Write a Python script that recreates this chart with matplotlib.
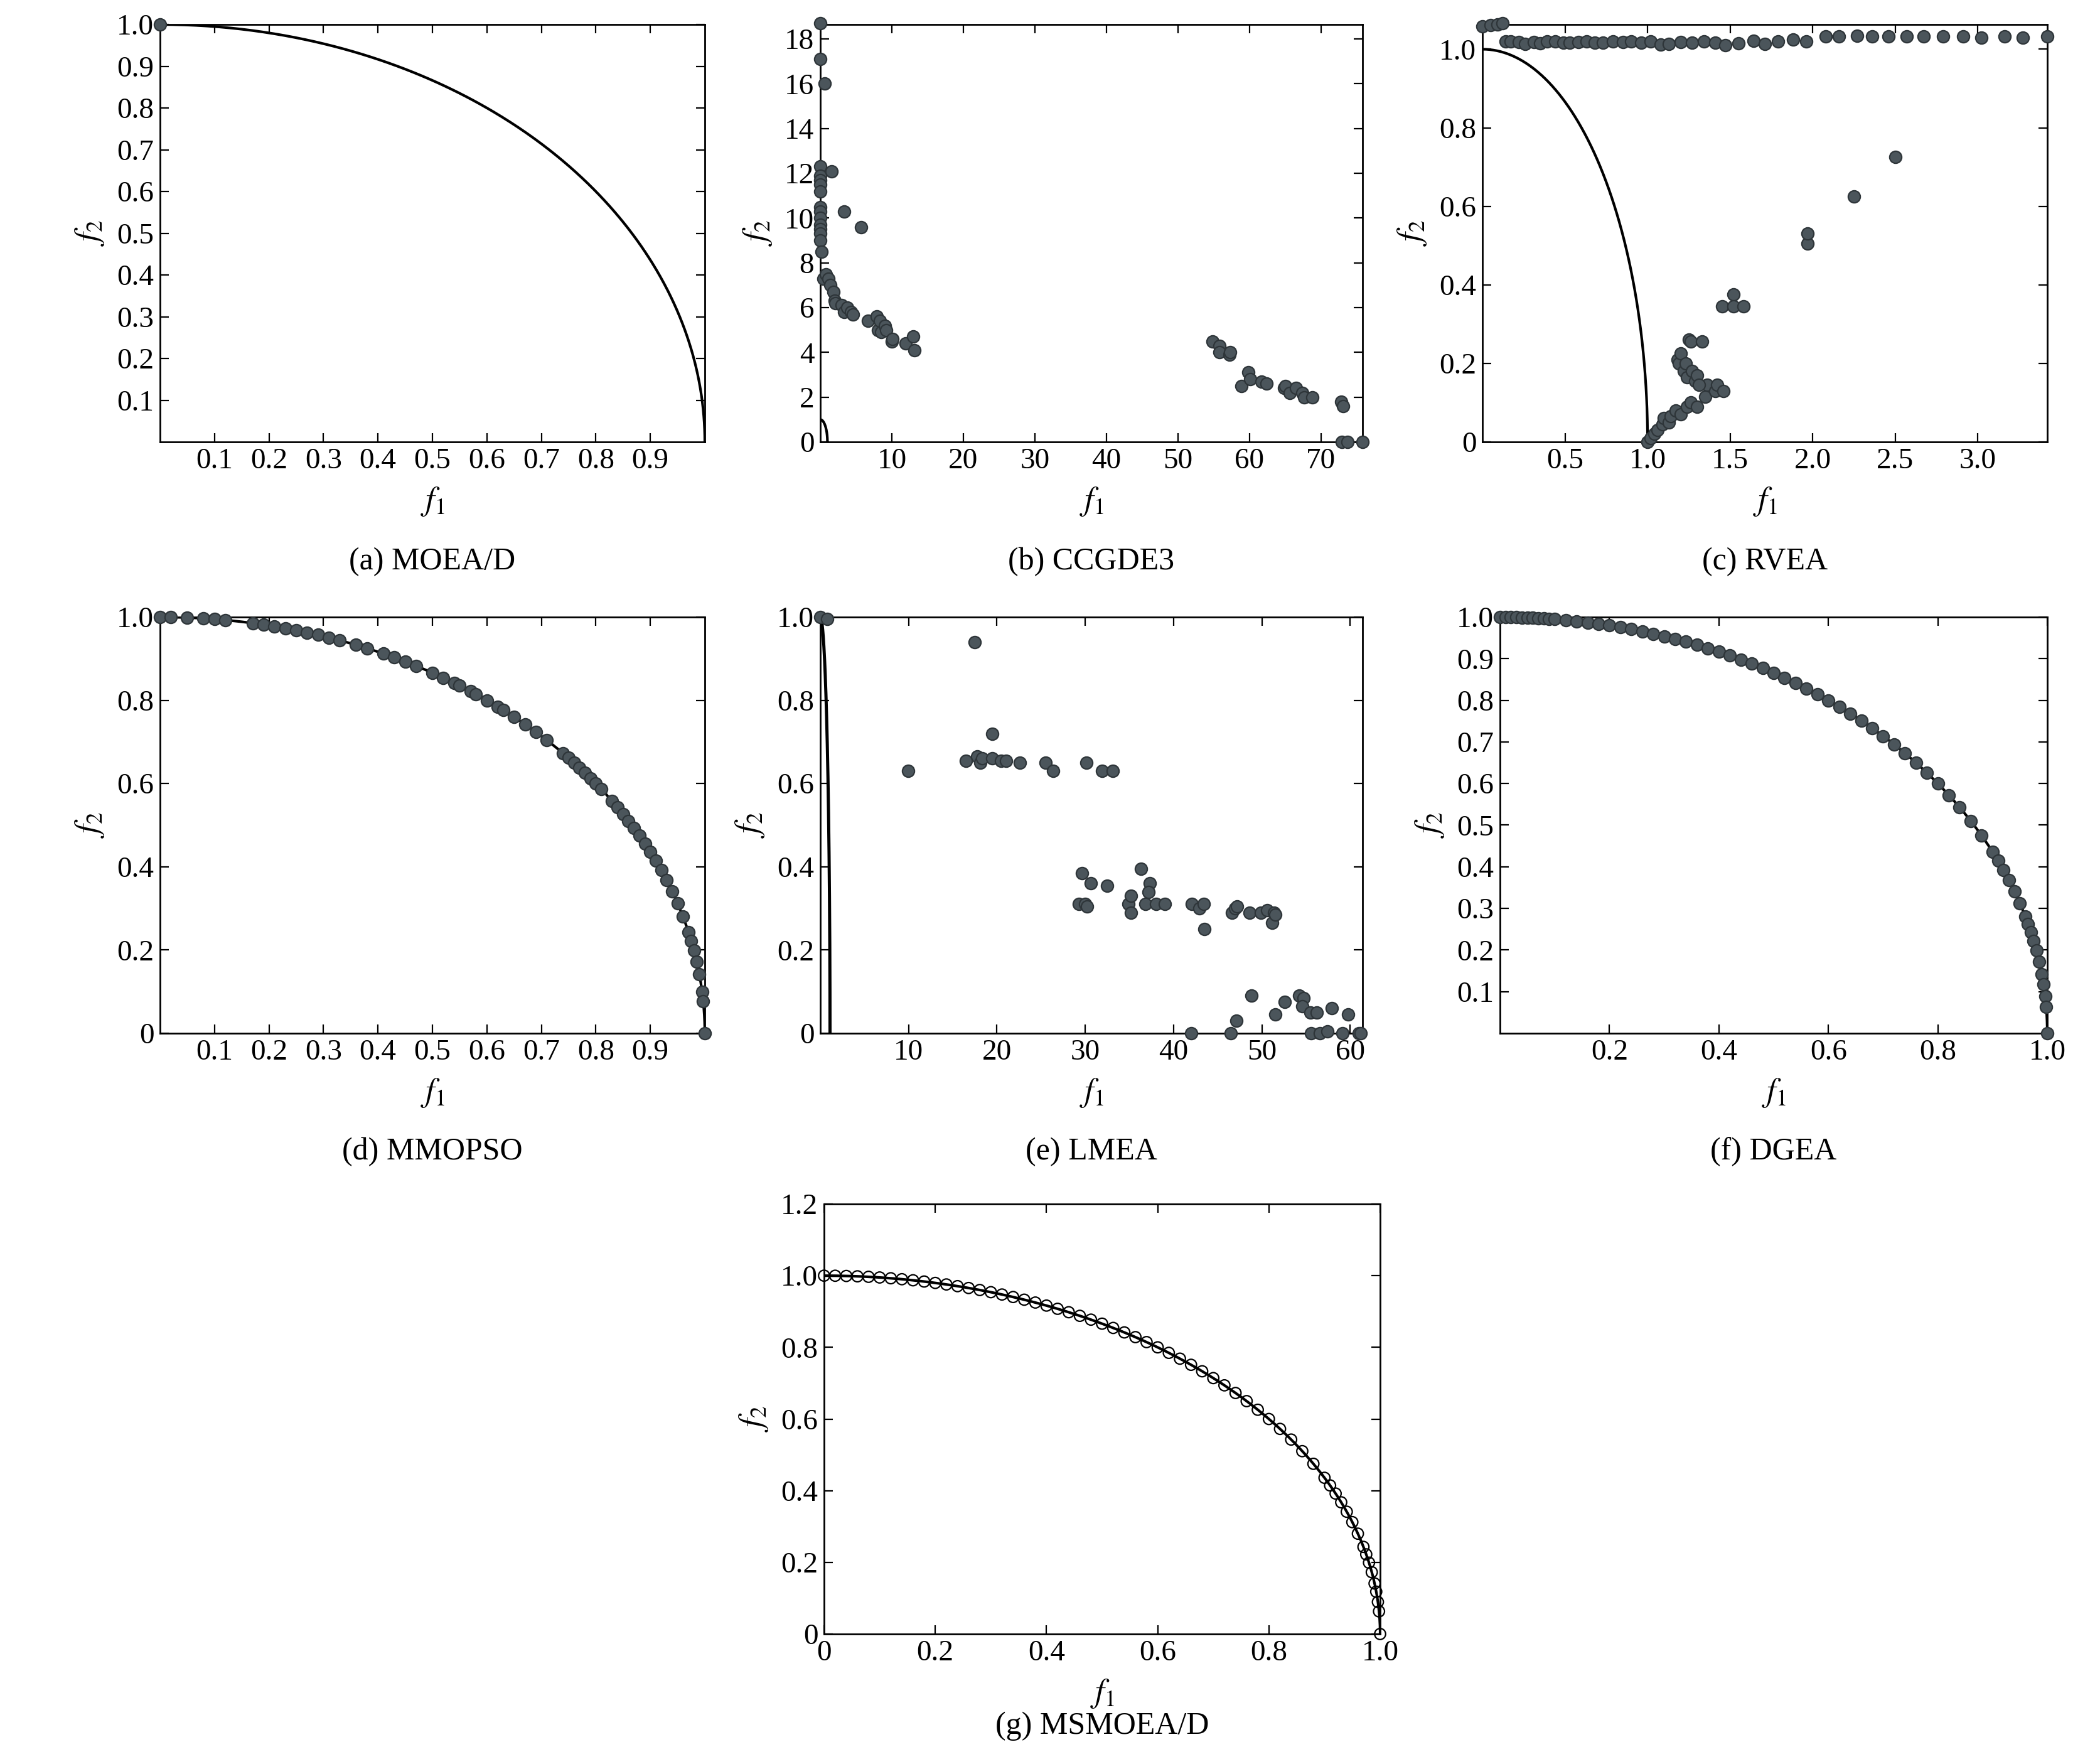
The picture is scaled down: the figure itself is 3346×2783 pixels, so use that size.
import numpy as np
import matplotlib
matplotlib.use("Agg")
from matplotlib import pyplot as plt

plt.rcParams['font.family'] = ['Liberation Serif', 'DejaVu Serif']
plt.rcParams['mathtext.fontset'] = 'stix'

# ---- data ----
b_x = [0, 0, 0.6, 0, 0, 0, 0, 0, 1.6, 0, 0, 0, 0, 0, 0, 0, 0.2, 3.3, 5.7, 0.4, 0.8, 1.1, 1.4, 1.8,
       2.0, 2.1, 3.0, 3.3, 3.8, 4.3, 4.6, 6.7, 7.9, 8.1, 8.3, 8.5, 9.0, 9.2, 10.0, 10.1, 11.9, 13.0,
       13.2, 54.8, 55.8, 55.8, 57.2, 57.3, 58.9, 59.8, 60.1, 61.7, 62.4, 64.8, 65.0, 65.6, 66.5,
       67.4, 67.6, 68.8, 72.8, 73.1, 72.9, 73.7, 75.8]
b_y = [18.7, 17.1, 16.0, 12.3, 11.9, 11.7, 11.5, 11.2, 12.1, 10.5, 10.3, 10.0, 9.7, 9.5, 9.3, 9.0,
       8.5, 10.3, 9.6, 7.3, 7.5, 7.3, 7.0, 6.7, 6.3, 6.2, 6.1, 5.8, 6.0, 5.8, 5.7, 5.4, 5.6, 5.0,
       5.4, 4.9, 5.2, 5.0, 4.5, 4.6, 4.4, 4.7, 4.1, 4.5, 4.3, 4.0, 3.9, 4.0, 2.5, 3.1, 2.8, 2.7,
       2.6, 2.4, 2.5, 2.2, 2.4, 2.2, 2.0, 2.0, 1.8, 1.6, 0, 0, 0]

c_x = [0.0, 0.05, 0.09, 0.12,
       0.14, 0.17, 0.22, 0.26, 0.31, 0.35, 0.39, 0.44, 0.49, 0.53, 0.58, 0.63, 0.68, 0.73, 0.79,
       0.85, 0.9, 0.96, 1.02, 1.08, 1.13, 1.2, 1.27, 1.34, 1.41, 1.47, 1.55, 1.64, 1.71, 1.79,
       1.88, 1.96, 2.08, 2.16, 2.27, 2.36, 2.46, 2.57, 2.67, 2.79, 2.91, 3.02, 3.16, 3.27, 3.42,
       1.0, 1.02, 1.04, 1.06, 1.09, 1.1, 1.13, 1.14, 1.17, 1.2, 1.24, 1.26, 1.3, 1.35, 1.36, 1.41,
       1.42, 1.46, 1.18, 1.19, 1.2, 1.22, 1.23, 1.24, 1.27, 1.29, 1.3, 1.31, 1.25, 1.26, 1.33,
       1.45, 1.52, 1.52, 1.58, 1.97, 1.97, 2.25, 2.5]
c_y = [1.058, 1.061, 1.063, 1.066,
       1.02, 1.02, 1.018, 1.014, 1.018, 1.015, 1.02, 1.02, 1.016, 1.016, 1.018, 1.02, 1.017,
       1.016, 1.02, 1.018, 1.02, 1.016, 1.02, 1.012, 1.013, 1.018, 1.016, 1.02, 1.017, 1.01,
       1.015, 1.022, 1.013, 1.02, 1.024, 1.02, 1.033, 1.033, 1.035, 1.033, 1.033, 1.033, 1.032,
       1.033, 1.033, 1.03, 1.033, 1.03, 1.033,
       0.0, 0.01, 0.02, 0.03, 0.045, 0.06, 0.05, 0.065, 0.08, 0.07, 0.09, 0.1, 0.09, 0.115, 0.145,
       0.13, 0.145, 0.13, 0.21, 0.2, 0.225, 0.18, 0.2, 0.165, 0.18, 0.155, 0.17, 0.145, 0.26,
       0.255, 0.255, 0.345, 0.375, 0.345, 0.345, 0.505, 0.53, 0.625, 0.725]

d_x = [0.0, 0.02, 0.05, 0.08, 0.1, 0.12, 0.17, 0.19, 0.21, 0.23, 0.25, 0.27, 0.29, 0.31, 0.33,
       0.36, 0.38, 0.41, 0.43, 0.45, 0.47, 0.5, 0.52, 0.54, 0.55, 0.57, 0.58, 0.6, 0.62, 0.63,
       0.65, 0.67, 0.69, 0.71, 0.74, 0.75, 0.76, 0.77, 0.78, 0.79, 0.8, 0.81, 0.83, 0.84, 0.85,
       0.86, 0.87, 0.88, 0.89, 0.9, 0.91, 0.92, 0.93, 0.94, 0.95, 0.96, 0.97, 0.975, 0.98, 0.985,
       0.99, 0.995, 0.997, 1.0]

e_x = [0, 0.8, 17.5, 9.95, 16.5, 17.8, 18.1, 18.3, 19.5, 19.5, 20.5, 21, 22.6, 25.5, 26.4, 30.1,
       31.9, 33.1, 29.6, 30.6, 32.5, 29.3, 30.0, 30.2, 34.9, 35.2, 35.2, 36.3, 37.3, 37.2, 36.8,
       38.0, 39.0, 42.1, 42.9, 43.4, 43.5, 46.6, 47.0, 47.2, 48.6, 49.9, 50.6, 51.2, 51.4, 51.5,
       48.8, 47.1, 51.5, 52.6, 54.2, 54.7, 54.6, 55.5, 56.2, 57.9, 59.8, 42.0, 46.5, 55.6, 56.6,
       57.4, 59.1, 61.0, 61.2]
e_y = [1.0, 0.995, 0.94, 0.63, 0.655, 0.665, 0.65, 0.66, 0.72, 0.66, 0.655, 0.655, 0.65, 0.65,
       0.63, 0.65, 0.63, 0.63, 0.385, 0.36, 0.355, 0.31, 0.31, 0.305, 0.31, 0.33, 0.29, 0.395,
       0.36, 0.34, 0.31, 0.31, 0.31, 0.31, 0.3, 0.31, 0.25, 0.29, 0.3, 0.305, 0.29, 0.29, 0.295,
       0.265, 0.29, 0.285, 0.09, 0.03, 0.045, 0.075, 0.09, 0.085, 0.065, 0.05, 0.05, 0.06, 0.045,
       0, 0, 0, 0, 0.005, 0, 0, 0]

f_x = [0.0, 0.01, 0.02, 0.03, 0.04, 0.05, 0.06, 0.07, 0.08, 0.09, 0.1, 0.12, 0.14, 0.16, 0.18,
       0.2, 0.22, 0.24, 0.26, 0.28, 0.3, 0.32, 0.34, 0.36, 0.38, 0.4, 0.42, 0.44, 0.46, 0.48, 0.5,
       0.52, 0.54, 0.56, 0.58, 0.6, 0.62, 0.64, 0.66, 0.68, 0.7, 0.72, 0.74, 0.76, 0.78, 0.8, 0.82,
       0.84, 0.86, 0.88, 0.9, 0.91, 0.92, 0.93, 0.94, 0.95, 0.96, 0.965, 0.97, 0.975, 0.98, 0.985,
       0.99, 0.993, 0.996, 0.998, 1.0]

g_x = [0.0, 0.02, 0.04, 0.06, 0.08, 0.1, 0.12, 0.14, 0.16, 0.18, 0.2, 0.22, 0.24, 0.26, 0.28,
       0.3, 0.32, 0.34, 0.36, 0.38, 0.4, 0.42, 0.44, 0.46, 0.48, 0.5, 0.52, 0.54, 0.56, 0.58, 0.6,
       0.62, 0.64, 0.66, 0.68, 0.7, 0.72, 0.74, 0.76, 0.78, 0.8, 0.82, 0.84, 0.86, 0.88, 0.9, 0.91,
       0.92, 0.93, 0.94, 0.95, 0.96, 0.97, 0.975, 0.98, 0.985, 0.99, 0.993, 0.996, 0.998, 1.0]


def front(x):
    # true Pareto front f1^2 + f2^2 = 1
    x = np.asarray(x, dtype=float)
    return np.sqrt(np.clip(1 - x**2, 0, None))


pf_x = 1 - (1 - np.linspace(0, 1, 400))**3
pf_y = front(pf_x)

dot = dict(s=48, c='#4b555b', edgecolors='#2e3539', linewidths=0.8, zorder=3, clip_on=False)

fig = plt.figure(figsize=(16.73, 13.915), dpi=200)
W, H = 3346, 2783


def mk(l, t, r, b):
    return fig.add_axes([l / W, 1 - b / H, (r - l) / W, (b - t) / H])


def style(ax, cap, capy):
    ax.tick_params(direction='in', top=True, right=True, labelsize=17, length=5)
    ax.set_xlabel('$f_1$', fontsize=19, labelpad=6)
    ax.set_ylabel('$f_2$', fontsize=19, labelpad=6)
    for s in ax.spines.values():
        s.set_linewidth(1.0)
    fig.text((ax.get_position().x0 + ax.get_position().x1) / 2, 1 - capy / H, cap,
             ha='center', va='center', fontsize=18)


tk9 = [0.1, 0.2, 0.3, 0.4, 0.5, 0.6, 0.7, 0.8, 0.9]

# (a)
ax = mk(255, 39, 1123, 704)
ax.plot(pf_x, pf_y, 'k', lw=1.5)
ax.scatter([0], [1], **dot)
ax.set_xlim(0, 1.0); ax.set_ylim(0, 1.0)
ax.set_xticks(tk9); ax.set_yticks(tk9 + [1.0])
ax.set_yticklabels(['0.1', '0.2', '0.3', '0.4', '0.5', '0.6', '0.7', '0.8', '0.9', '1.0'])
style(ax, '(a) MOEA/D', 895)

# (b)
ax = mk(1307, 39, 2171, 704)
ax.plot(pf_x, pf_y, 'k', lw=1.5)
ax.scatter(b_x, b_y, **dot)
ax.set_xlim(0, 75.8); ax.set_ylim(0, 18.65)
ax.set_xticks([10, 20, 30, 40, 50, 60, 70]); ax.set_yticks(range(0, 19, 2))
style(ax, '(b) CCGDE3', 895)

# (c)
ax = mk(2362, 39, 3262, 704)
ax.plot(pf_x, pf_y, 'k', lw=1.5)
ax.scatter(c_x, c_y, **dot)
ax.set_xlim(0, 3.42); ax.set_ylim(0, 1.063)
ax.set_xticks([0.5, 1.0, 1.5, 2.0, 2.5, 3.0]); ax.set_yticks([0, 0.2, 0.4, 0.6, 0.8, 1.0])
ax.set_xticklabels(['0.5', '1.0', '1.5', '2.0', '2.5', '3.0'])
ax.set_yticklabels(['0', '0.2', '0.4', '0.6', '0.8', '1.0'])
style(ax, '(c) RVEA', 895)

# (d)
ax = mk(255, 983, 1123, 1646)
ax.plot(pf_x, pf_y, 'k', lw=1.5)
ax.scatter(d_x, front(d_x), **dot)
ax.set_xlim(0, 1.0); ax.set_ylim(0, 1.0)
ax.set_xticks(tk9); ax.set_yticks([0, 0.2, 0.4, 0.6, 0.8, 1.0])
ax.set_yticklabels(['0', '0.2', '0.4', '0.6', '0.8', '1.0'])
style(ax, '(d) MMOPSO', 1835)

# (e)
ax = mk(1307, 983, 2171, 1646)
ax.plot(pf_x * 1.1, pf_y, 'k', lw=1.8)
ax.scatter(e_x, e_y, **dot)
ax.set_xlim(0, 61.4); ax.set_ylim(0, 1.0)
ax.set_xticks([10, 20, 30, 40, 50, 60]); ax.set_yticks([0, 0.2, 0.4, 0.6, 0.8, 1.0])
ax.set_yticklabels(['0', '0.2', '0.4', '0.6', '0.8', '1.0'])
style(ax, '(e) LMEA', 1835)

# (f)
ax = mk(2390, 983, 3262, 1646)
ax.plot(pf_x, pf_y, 'k', lw=1.5)
ax.scatter(f_x, front(f_x), **dot)
ax.set_xlim(0, 1.0); ax.set_ylim(0, 1.0)
ax.set_xticks([0.2, 0.4, 0.6, 0.8, 1.0]); ax.set_yticks(tk9 + [1.0])
ax.set_xticklabels(['0.2', '0.4', '0.6', '0.8', '1.0'])
ax.set_yticklabels(['0.1', '0.2', '0.3', '0.4', '0.5', '0.6', '0.7', '0.8', '0.9', '1.0'])
style(ax, '(f) DGEA', 1835)

# (g)
ax = mk(1313, 1918, 2199, 2603)
ax.plot(pf_x, pf_y, 'k', lw=1.5)
ax.scatter(g_x, front(g_x), s=40, facecolors='none', edgecolors='k', linewidths=0.8,
           zorder=3, clip_on=False)
ax.set_xlim(0, 1.0); ax.set_ylim(0, 1.2)
ax.set_xticks([0, 0.2, 0.4, 0.6, 0.8, 1.0]); ax.set_yticks([0, 0.2, 0.4, 0.6, 0.8, 1.0, 1.2])
ax.set_xticklabels(['0', '0.2', '0.4', '0.6', '0.8', '1.0'])
ax.set_yticklabels(['0', '0.2', '0.4', '0.6', '0.8', '1.0', '1.2'])
style(ax, '(g) MSMOEA/D', 2750)

fig.savefig('out.png', dpi=200)
